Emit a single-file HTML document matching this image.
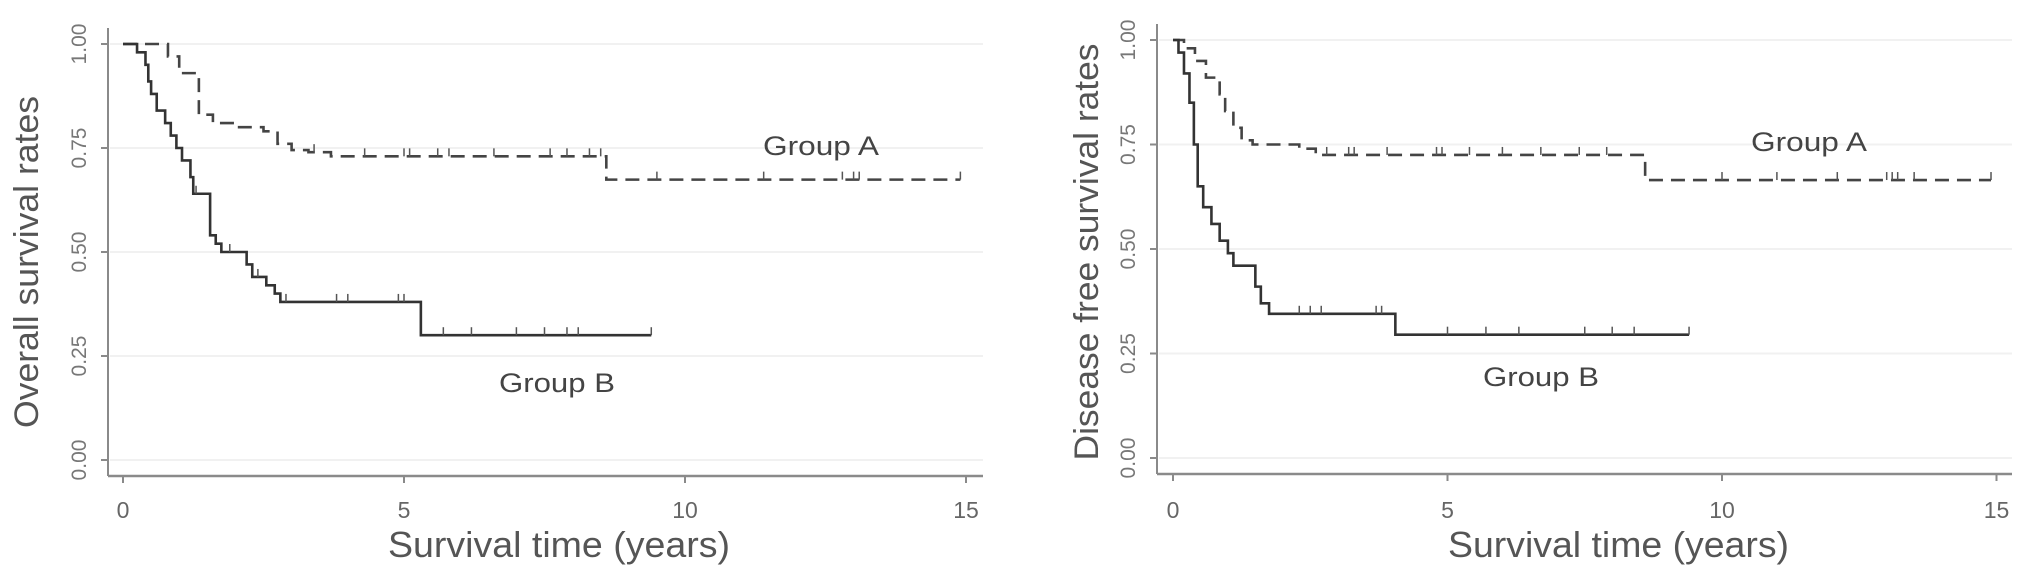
<!DOCTYPE html>
<html><head><meta charset="utf-8"><style>
body{margin:0;background:#fff}
svg{display:block;font-family:"Liberation Sans",Arial,sans-serif}
</style></head><body>
<svg id="c" width="2031" height="579" viewBox="0 0 2031 579" xmlns="http://www.w3.org/2000/svg"></svg>
<script>
// ---- data ----
const xTicks=[0,5,10,15];
const yTicks=[0,0.25,0.5,0.75,1];
const yTickLabels=["0.00","0.25","0.50","0.75","1.00"];
// Overall survival
const osATimes=[0,0.8,1.0,1.35,1.6,2.0,2.5,2.75,3.0,3.3,3.7,8.6];
const osASurv=[1,0.97,0.93,0.83,0.81,0.80,0.79,0.76,0.745,0.74,0.73,0.674];
const osAEnd=14.9;
const osACens=[3.4,4.3,5.0,5.1,5.6,5.8,6.6,7.6,7.9,8.3,8.5,9.5,11.4,12.8,13.0,13.1,14.9];
const osBTimes=[0,0.25,0.4,0.45,0.5,0.6,0.75,0.85,0.95,1.05,1.2,1.25,1.55,1.65,1.75,2.2,2.3,2.55,2.7,2.8,5.3];
const osBSurv=[1,0.98,0.95,0.91,0.88,0.84,0.81,0.78,0.75,0.72,0.68,0.64,0.54,0.52,0.50,0.47,0.44,0.42,0.40,0.38,0.30];
const osBEnd=9.4;
const osBCens=[1.3,1.9,2.4,2.9,3.8,4.0,4.9,5.0,5.7,6.2,7.0,7.5,7.9,8.1,9.4];
// Disease free survival
const dfsATimes=[0,0.2,0.4,0.6,0.85,0.95,1.1,1.25,1.45,2.3,2.6,8.6];
const dfsASurv=[1,0.98,0.95,0.91,0.87,0.83,0.79,0.76,0.75,0.74,0.725,0.665];
const dfsAEnd=14.9;
const dfsACens=[2.8,3.2,3.3,3.9,4.8,4.9,5.4,6.0,6.7,7.4,7.9,10.0,11.0,12.1,13.0,13.1,13.2,13.5,14.9];
const dfsBTimes=[0,0.1,0.2,0.3,0.38,0.45,0.55,0.7,0.85,1.0,1.1,1.5,1.6,1.75,4.05];
const dfsBSurv=[1,0.97,0.92,0.85,0.75,0.65,0.60,0.56,0.52,0.49,0.46,0.41,0.37,0.345,0.295];
const dfsBEnd=9.4;
const dfsBCens=[2.3,2.5,2.7,3.7,3.8,5.0,5.7,6.3,7.5,8.0,8.4,9.4];

const NS="http://www.w3.org/2000/svg";
const svg=document.getElementById('c');
function mk(tag,attrs,parent){const e=document.createElementNS(NS,tag);for(const k in attrs)e.setAttribute(k,attrs[k]);(parent||svg).appendChild(e);return e;}

function panel(cfg){
  const g=mk('g',{});
  
  
  const X=t=>cfg.x0+t*cfg.px;
  const Y=v=>cfg.y0-v*cfg.py;
  // gridlines
  yTicks.forEach(v=>{
    const l=mk('line',{x1:cfg.axX+2,x2:cfg.axEnd,y1:Y(v),y2:Y(v),stroke:'#f1f1f1','stroke-width':2},g);
    
    
  });
  // axes
  const ya=mk('line',{x1:cfg.axX,x2:cfg.axX,y1:Y(1)-16,y2:cfg.axY,stroke:'#8a8a8a','stroke-width':2},g);
  
  
  const xa=mk('line',{x1:cfg.axX,x2:cfg.axEnd,y1:cfg.axY,y2:cfg.axY,stroke:'#8a8a8a','stroke-width':2.5},g);
  
  
  yTicks.forEach((v,i)=>{
    mk('line',{x1:cfg.axX-7,x2:cfg.axX,y1:Y(v),y2:Y(v),stroke:'#8a8a8a','stroke-width':2},g);
    const t=mk('text',{x:0,y:0,transform:`translate(${cfg.axX-22},${Y(v)}) rotate(-90)`,'text-anchor':'middle','font-size':21,fill:'#777'},g);
    t.textContent=yTickLabels[i];
    
    
  });
  xTicks.forEach(v=>{
    mk('line',{x1:X(v),x2:X(v),y1:cfg.axY,y2:cfg.axY+7,stroke:'#8a8a8a','stroke-width':2},g);
    const t=mk('text',{x:X(v),y:518,'text-anchor':'middle','font-size':23,fill:'#666'},g);
    t.textContent=String(v);
    
    
  });
  // titles
  const xt=mk('text',{x:cfg.xtX,y:557,'font-size':36,fill:'#555',textLength:cfg.xtW,lengthAdjust:'spacingAndGlyphs'},g);
  xt.textContent='Survival time (years)';
  
  
  const yt=mk('text',{x:0,y:0,transform:`translate(${cfg.ytX},${cfg.ytC}) rotate(-90)`,'text-anchor':'middle','font-size':34,fill:'#555',textLength:cfg.ytW,lengthAdjust:'spacingAndGlyphs'},g);
  yt.textContent=cfg.ytitle;
  
  
  // curves
  function curve(times,surv,end,cens,dashed,nm){
    let d=`M${X(times[0])},${Y(surv[0])}`;
    for(let i=1;i<times.length;i++){d+=` H${X(times[i])} V${Y(surv[i])}`;}
    d+=` H${X(end)}`;
    const p=mk('path',{d:d,fill:'none',stroke:dashed?'#444':'#333','stroke-width':dashed?2.6:2.6,'stroke-dasharray':dashed?'14 8':'none'},g);
    
    
    cens.forEach(c=>{
      let s=surv[0];
      for(let i=0;i<times.length;i++){if(times[i]<=c)s=surv[i];}
      const m=mk('line',{x1:X(c),x2:X(c),y1:Y(s),y2:Y(s)-8,stroke:'#555','stroke-width':1.5},g);
      
      
    });
  }
  curve(cfg.aT,cfg.aS,cfg.aE,cfg.aC,true,'group-a-curve');
  curve(cfg.bT,cfg.bS,cfg.bE,cfg.bC,false,'group-b-curve');
  [['Group A',cfg.la],['Group B',cfg.lb]].forEach(([txt,p])=>{
    const t=mk('text',{x:p[0],y:p[1],'font-size':27,fill:'#444',textLength:116,lengthAdjust:'spacingAndGlyphs'},g);
    t.textContent=txt;
    
    
  });
}
panel({name:'overall-survival-chart',x0:123,px:56.2,y0:460,py:416,axX:108,axY:476,axEnd:983,
  xtX:388,xtW:342,ytX:38,ytC:262,ytW:332,ytitle:'Overall survival rates',
  aT:osATimes,aS:osASurv,aE:osAEnd,aC:osACens,bT:osBTimes,bS:osBSurv,bE:osBEnd,bC:osBCens,
  la:[763,155],lb:[499,392]});
panel({name:'disease-free-survival-chart',x0:1173,px:54.9,y0:458,py:418,axX:1157,axY:474,axEnd:2012,
  xtX:1448,xtW:341,ytX:1098,ytC:252,ytW:417,ytitle:'Disease free survival rates',
  aT:dfsATimes,aS:dfsASurv,aE:dfsAEnd,aC:dfsACens,bT:dfsBTimes,bS:dfsBSurv,bE:dfsBEnd,bC:dfsBCens,
  la:[1751,151],lb:[1483,386]});
</script>
</body></html>
